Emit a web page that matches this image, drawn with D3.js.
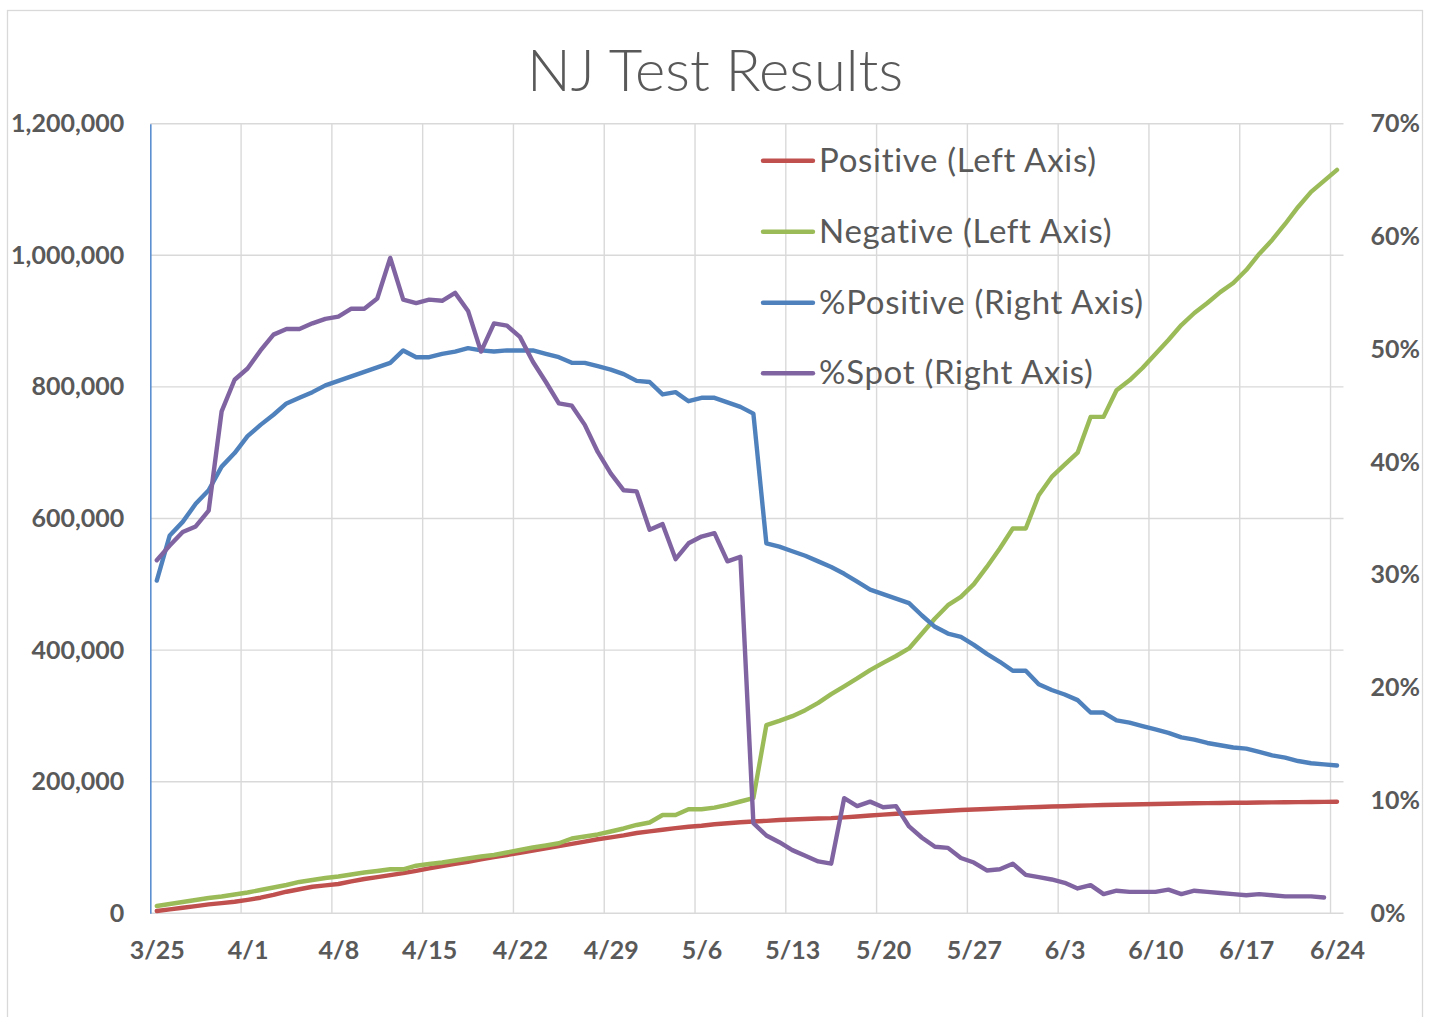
<!DOCTYPE html>
<html>
<head>
<meta charset="utf-8">
<script src="https://cdn.jsdelivr.net/npm/d3@7"></script>
<style>
  html, body { margin: 0; padding: 0; background: #ffffff; }
  svg { display: block; }
  text { font-family: Lato, "Open Sans", sans-serif; fill: #595959; }
</style>
</head>
<body>
<svg id="chart" width="1435" height="1017"></svg>
<script>
// ---------------- data ----------------
const dates = [
  "3/25","3/26","3/27","3/28","3/29","3/30","3/31",
  "4/1","4/2","4/3","4/4","4/5","4/6","4/7",
  "4/8","4/9","4/10","4/11","4/12","4/13","4/14",
  "4/15","4/16","4/17","4/18","4/19","4/20","4/21",
  "4/22","4/23","4/24","4/25","4/26","4/27","4/28",
  "4/29","4/30","5/1","5/2","5/3","5/4","5/5",
  "5/6","5/7","5/8","5/9","5/10","5/11","5/12",
  "5/13","5/14","5/15","5/16","5/17","5/18","5/19",
  "5/20","5/21","5/22","5/23","5/24","5/25","5/26",
  "5/27","5/28","5/29","5/30","5/31","6/1","6/2",
  "6/3","6/4","6/5","6/6","6/7","6/8","6/9",
  "6/10","6/11","6/12","6/13","6/14","6/15","6/16",
  "6/17","6/18","6/19","6/20","6/21","6/22","6/23",
  "6/24"
];
const xTickLabels = ["3/25","4/1","4/8","4/15","4/22","4/29","5/6","5/13","5/20","5/27","6/3","6/10","6/17","6/24"];
const leftTicks = [0, 200000, 400000, 600000, 800000, 1000000, 1200000];
const rightTicks = [0, 10, 20, 30, 40, 50, 60, 70];

const positive = [
  3500, 6000, 8500, 11000, 13500, 15500, 17600,
  20500, 23700, 28000, 32800, 36500, 40400, 42500,
  44500, 48500, 52100, 55000, 58000, 61000, 64500,
  68400, 71900, 75000, 78400, 82000, 85500, 88600,
  92000, 95500, 98800, 102000, 105500, 109000, 112500,
  115500, 118500, 122000, 124500, 127000, 129500, 131500,
  133000, 135300, 136800, 138300, 139500, 140500, 141700,
  142600, 143400, 144000, 144600, 145800, 147200, 148600,
  150000, 151300, 152500, 153600, 154700, 155800, 157000,
  157800, 158600, 159400, 160200, 161000, 161600, 162200,
  162800, 163400, 164000, 164600, 165000, 165400, 165800,
  166100, 166400, 166800, 167200, 167400, 167600, 167900,
  168100, 168300, 168600, 168800, 169000, 169200, 169400,
  169600
];
const negative = [
  11100, 14100, 17200, 20200, 23300, 25500, 28600,
  31600, 35400, 39200, 43000, 47600, 50600, 53700,
  55900, 59000, 62000, 64300, 66900, 66900, 72300,
  74900, 77200, 80200, 83300, 86300, 88600, 92400,
  96200, 100000, 103000, 106400, 113700, 116700, 119800,
  124300, 128900, 134200, 138000, 149400, 149400, 158100,
  158100, 160500, 164900, 169900, 175200, 285900, 292400,
  299600, 308700, 319800, 333000, 345000, 356900, 369500,
  380600, 391000, 402500, 425300, 448000, 468300, 480900,
  500200, 526400, 554400, 584800, 584800, 635400, 663200,
  682000, 700000, 754400, 754400, 795000, 810000, 828700,
  850000, 871300, 894000, 912300, 927500, 944000, 957800,
  977600, 1002000, 1023300, 1047600, 1073500, 1096300, 1113000,
  1129800
];
const pctPositive = [
  29.5, 33.5, 34.7, 36.3, 37.5, 39.6, 40.8,
  42.3, 43.3, 44.2, 45.2, 45.7, 46.2, 46.8,
  47.2, 47.6, 48.0, 48.4, 48.8, 49.9, 49.3,
  49.3, 49.6, 49.8, 50.1, 49.9, 49.8, 49.9,
  49.9, 49.9, 49.6, 49.3, 48.8, 48.8, 48.5,
  48.2, 47.8, 47.2, 47.1, 46.0, 46.2, 45.4,
  45.7, 45.7, 45.3, 44.9, 44.3, 32.8, 32.5,
  32.1, 31.7, 31.2, 30.7, 30.1, 29.4, 28.7,
  28.3, 27.9, 27.5, 26.4, 25.4, 24.8, 24.5,
  23.8, 23.0, 22.3, 21.5, 21.5, 20.3, 19.8,
  19.4, 18.9, 17.8, 17.8, 17.1, 16.9, 16.6,
  16.3, 16.0, 15.6, 15.4, 15.1, 14.9, 14.7,
  14.6, 14.3, 14.0, 13.8, 13.5, 13.3, 13.2,
  13.1
];
const pctSpot = [
  31.3, 32.6, 33.8, 34.3, 35.7, 44.5, 47.3,
  48.3, 49.9, 51.3, 51.8, 51.8, 52.3, 52.7,
  52.9, 53.6, 53.6, 54.5, 58.1, 54.4, 54.1,
  54.4, 54.3, 55.0, 53.4, 49.8, 52.3, 52.1,
  51.1, 48.9, 47.1, 45.2, 45.0, 43.3, 40.9,
  39.0, 37.5, 37.4, 34.0, 34.5, 31.4, 32.8,
  33.4, 33.7, 31.2, 31.6, 8.0, 6.9, 6.3,
  5.6, 5.1, 4.6, 4.4, 10.2, 9.5, 9.9,
  9.4, 9.5, 7.7, 6.7, 5.9, 5.8, 4.9,
  4.5, 3.8, 3.9, 4.4, 3.4, 3.2, 3.0,
  2.7, 2.2, 2.5, 1.7, 2.0, 1.9, 1.9,
  1.9, 2.1, 1.7, 2.0, 1.9, 1.8, 1.7,
  1.6, 1.7, 1.6, 1.5, 1.5, 1.5, 1.4
];

const seriesNames = ["Positive (Left Axis)", "Negative (Left Axis)", "%Positive (Right Axis)", "%Spot (Right Axis)"];
const seriesColors = ["#C0504D", "#9BBB59", "#4F81BD", "#8064A2"];

// ---------------- chart ----------------
const svg = d3.select("#chart");
const plotLeft = 150.3, plotRight = 1343.5, plotTop = 123.7, plotBottom = 913.3;

const x = d3.scalePoint().domain(dates).range([plotLeft, plotRight]).padding(0.5);
const step = x.step();
const yL = d3.scaleLinear().domain([0, 1200000]).range([plotBottom, plotTop]);
const yR = d3.scaleLinear().domain([0, 70]).range([plotBottom, plotTop]);

// outer border
svg.append("rect")
  .attr("x", 7.5).attr("y", 10.5).attr("width", 1415).attr("height", 1030)
  .attr("fill", "none").attr("stroke", "#D9D9D9").attr("stroke-width", 1.3);

// title
svg.append("text")
  .attr("x", 715).attr("y", 91)
  .attr("text-anchor", "middle")
  .style("font-size", "58px").style("font-weight", 300)
  .text("NJ Test Results");

// gridlines
const grid = svg.append("g");
grid.selectAll("line.h").data(leftTicks.slice(1)).join("line")
  .attr("x1", plotLeft).attr("x2", plotRight)
  .attr("y1", d => yL(d)).attr("y2", d => yL(d))
  .attr("stroke", "#D9D9D9").attr("stroke-width", 1.4);
grid.selectAll("line.v").data(xTickLabels.slice(1)).join("line")
  .attr("x1", d => x(d) - step / 2).attr("x2", d => x(d) - step / 2)
  .attr("y1", plotTop).attr("y2", plotBottom)
  .attr("stroke", "#D9D9D9").attr("stroke-width", 1.4);

// bottom axis line
svg.append("line")
  .attr("x1", plotLeft).attr("x2", plotRight)
  .attr("y1", plotBottom).attr("y2", plotBottom)
  .attr("stroke", "#D9D9D9").attr("stroke-width", 1.6);

// left axis
const leftAxis = svg.append("g").attr("transform", `translate(${plotLeft},0)`)
  .call(d3.axisLeft(yL).tickValues(leftTicks).tickFormat(d3.format(",")).tickSize(0).tickPadding(26));
leftAxis.select(".domain").attr("stroke", "#5B8FD0").attr("stroke-width", 1.6);
leftAxis.selectAll("text").style("font-size", "25px").style("font-weight", 700)
  .style("font-family", "Lato, sans-serif").attr("fill", "#595959");

// right axis
const rightAxis = svg.append("g").attr("transform", `translate(${plotRight},0)`)
  .call(d3.axisRight(yR).tickValues(rightTicks).tickFormat(d => d + "%").tickSize(0).tickPadding(27));
rightAxis.select(".domain").remove();
rightAxis.selectAll("text").style("font-size", "25px").style("font-weight", 700)
  .style("font-family", "Lato, sans-serif").attr("fill", "#595959");

// bottom axis labels
const bottomAxis = svg.append("g").attr("transform", `translate(0,${plotBottom})`)
  .call(d3.axisBottom(x).tickValues(xTickLabels).tickSize(0).tickPadding(28));
bottomAxis.select(".domain").remove();
bottomAxis.selectAll("text").style("font-size", "25px").style("font-weight", 700)
  .style("font-family", "Lato, sans-serif").attr("fill", "#595959");

// lines
const lineL = d3.line().x((d, i) => x(dates[i])).y(d => yL(d));
const lineR = d3.line().x((d, i) => x(dates[i])).y(d => yR(d));
const seriesData = [
  { vals: positive, gen: lineL },
  { vals: negative, gen: lineL },
  { vals: pctPositive, gen: lineR },
  { vals: pctSpot, gen: lineR }
];
seriesData.forEach((s, k) => {
  svg.append("path")
    .attr("d", s.gen(s.vals))
    .attr("fill", "none")
    .attr("stroke", seriesColors[k])
    .attr("stroke-width", 4.4)
    .attr("stroke-linejoin", "round")
    .attr("stroke-linecap", "round");
});

// legend
const legendY = [160.7, 231.7, 302.7, 373.3];
const legend = svg.append("g");
seriesNames.forEach((name, k) => {
  legend.append("line")
    .attr("x1", 763).attr("x2", 813)
    .attr("y1", legendY[k]).attr("y2", legendY[k])
    .attr("stroke", seriesColors[k]).attr("stroke-width", 4.4)
    .attr("stroke-linecap", "round");
  legend.append("text")
    .attr("x", 819).attr("y", legendY[k] + 11)
    .style("font-size", "33px").style("font-weight", 400)
    .style("letter-spacing", "0.7px")
    .text(name);
});
</script>
</body>
</html>
